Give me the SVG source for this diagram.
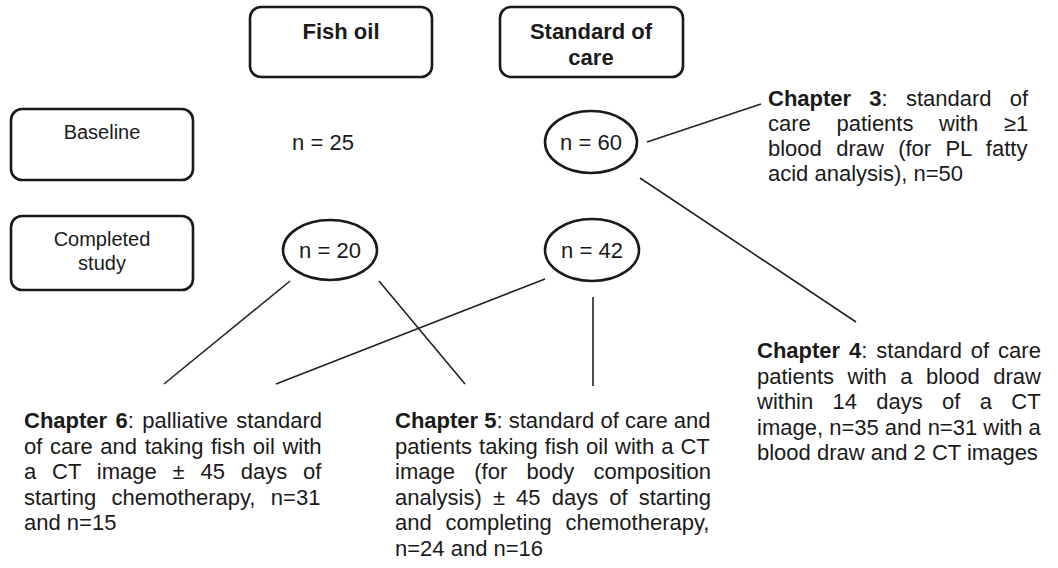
<svg xmlns="http://www.w3.org/2000/svg" width="1058" height="568" viewBox="0 0 1058 568">
<style>
.box{fill:#fff;stroke:#1a1a1a;stroke-width:2.6}
.ell{fill:#fff;stroke:#1a1a1a;stroke-width:2.6}
.con{stroke:#222;stroke-width:1.6;fill:none}
text{font-family:"Liberation Sans",Arial,sans-serif;fill:#1a1a1a}
.hd{font-size:22px;font-weight:bold;text-anchor:middle}
.lb{font-size:20px;text-anchor:middle}
.nn{font-size:22px;text-anchor:middle}
.ch{font-size:22px}
.b{font-weight:bold}
</style>
<rect width="1058" height="568" fill="#fff"/>
<g id="connectors">
<line class="con" x1="647" y1="142" x2="761" y2="104"/>
<line class="con" x1="640" y1="178" x2="856" y2="322"/>
<line class="con" x1="290" y1="281" x2="164" y2="384"/>
<line class="con" x1="379" y1="281" x2="465" y2="384"/>
<line class="con" x1="545" y1="279" x2="276" y2="384"/>
<line class="con" x1="593" y1="297" x2="593" y2="386"/>
</g>
<g id="fish-oil">
<rect class="box" x="250" y="7" width="182" height="70" rx="11"/>
<text class="hd" x="341" y="39">Fish oil</text>
</g>
<g id="standard-of-care">
<rect class="box" x="500" y="7" width="183" height="70" rx="11"/>
<text class="hd" x="591" y="39">Standard of</text>
<text class="hd" x="591" y="65">care</text>
</g>
<g id="baseline">
<rect class="box" x="11" y="109" width="182" height="71" rx="11"/>
<text class="lb" x="102" y="139">Baseline</text>
</g>
<g id="completed-study">
<rect class="box" x="11" y="216" width="182" height="74" rx="11"/>
<text class="lb" x="102" y="246">Completed</text>
<text class="lb" x="102" y="270">study</text>
</g>
<g id="n25">
<text class="nn" x="323" y="150">n = 25</text>
</g>
<g id="n60">
<ellipse class="ell" cx="591" cy="142" rx="46" ry="31"/>
<text class="nn" x="591" y="150">n = 60</text>
</g>
<g id="n20">
<ellipse class="ell" cx="330" cy="250" rx="47" ry="30"/>
<text class="nn" x="330" y="258">n = 20</text>
</g>
<g id="n42">
<ellipse class="ell" cx="592" cy="250" rx="47" ry="31"/>
<text class="nn" x="592" y="258">n = 42</text>
</g>
<g id="chapter3">
<text class="ch" x="768" y="106" word-spacing="12.1"><tspan class="b">Chapter 3</tspan>: standard of</text>
<text class="ch" x="768" y="131" word-spacing="19.5">care patients with ≥1</text>
<text class="ch" x="768" y="156" word-spacing="8.2">blood draw (for PL fatty</text>
<text class="ch" x="768" y="181">acid analysis), n=50</text>
</g>
<g id="chapter4">
<text class="ch" x="757" y="358" word-spacing="2.8"><tspan class="b">Chapter 4</tspan>: standard of care</text>
<text class="ch" x="757" y="383.5" word-spacing="7.4">patients with a blood draw</text>
<text class="ch" x="757" y="409" word-spacing="13.2">within 14 days of a CT</text>
<text class="ch" x="757" y="434.5">image, n=35 and n=31 with a</text>
<text class="ch" x="757" y="460">blood draw and 2 CT images</text>
</g>
<g id="chapter6">
<text class="ch" x="24" y="428" word-spacing="2.3"><tspan class="b">Chapter 6</tspan>: palliative standard</text>
<text class="ch" x="24" y="453.5" word-spacing="1.5">of care and taking fish oil with</text>
<text class="ch" x="24" y="479" word-spacing="9.7">a CT image ± 45 days of</text>
<text class="ch" x="24" y="504.5" word-spacing="9.3">starting chemotherapy, n=31</text>
<text class="ch" x="24" y="530">and n=15</text>
</g>
<g id="chapter5">
<text class="ch" x="395" y="428"><tspan class="b">Chapter 5</tspan>: standard of care and</text>
<text class="ch" x="395" y="453.5" word-spacing="0.9">patients taking fish oil with a CT</text>
<text class="ch" x="395" y="479" word-spacing="13.2">image (for body composition</text>
<text class="ch" x="395" y="504.5" word-spacing="5">analysis) ± 45 days of starting</text>
<text class="ch" x="395" y="530" word-spacing="7.6">and completing chemotherapy,</text>
<text class="ch" x="395" y="555.5">n=24 and n=16</text>
</g>
</svg>
